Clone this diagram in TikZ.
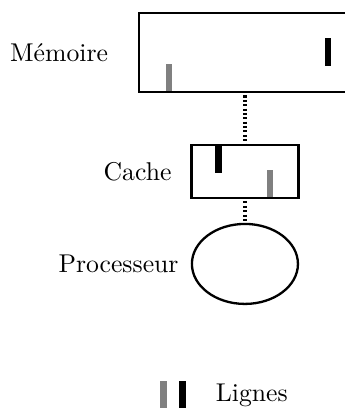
\documentclass[tikz,border=0pt]{standalone}
\usepackage{tikz}
\usetikzlibrary{positioning, shapes.geometric}

\begin{document}
\begin{tikzpicture}[
    boite/.style={draw, line width=0.9pt, inner sep=0pt},
    lbl/.style={inner sep=0pt},
    ligne/.style={inner sep=0pt, minimum width=0.085cm, minimum height=0.38cm},
    lien/.style={line width=1.6pt, dash pattern=on 0.8pt off 0.9pt, dash phase=-0.9pt},
  ]
  \useasboundingbox (0,0) rectangle (4.717,-5.579);

  % ---- Levels (centred at x = 3.349) ----
  \node[boite, minimum width=2.898cm, minimum height=1.080cm] (mem)   at (3.349,-0.718) {};
  \node[boite, minimum width=1.463cm, minimum height=0.725cm] (cache) at (3.349,-2.344) {};
  \node[boite, ellipse, minimum width=1.45cm, minimum height=1.094cm] (proc) at (3.349,-3.609) {};

  % ---- Labels (LEFT) ----
  \node[lbl, left=0.40cm of mem]   (memL)   {Mémoire};
  \node[lbl, left=0.25cm of cache] (cacheL) {Cache};
  \node[lbl, left=0.16cm of proc]  (procL)  {Processeur};

  % ---- Lines held in memory and cache ----
  \node[ligne, fill=black, anchor=north] (memB)   at (4.484,-0.519) {};
  \node[ligne, fill=gray,  anchor=south] (memG)   at (2.310,-1.258) {};
  \node[ligne, fill=black, anchor=north] (cacheB) at (2.987,-1.982) {};
  \node[ligne, fill=gray,  anchor=south] (cacheG) at (3.691,-2.707) {};

  % ---- Connectors ----
  \draw[lien] (mem) -- (cache);
  \draw[lien] (cache) -- (proc);

  % ---- Legend (BOTTOM) ----
  \node[ligne, fill=gray]  (legG) at (2.235,-5.40) {};
  \node[ligne, fill=black] (legB) at (2.495,-5.40) {};
  \node[lbl, right=0.40cm of legB] (legL) {Lignes};

\end{tikzpicture}
\end{document}
